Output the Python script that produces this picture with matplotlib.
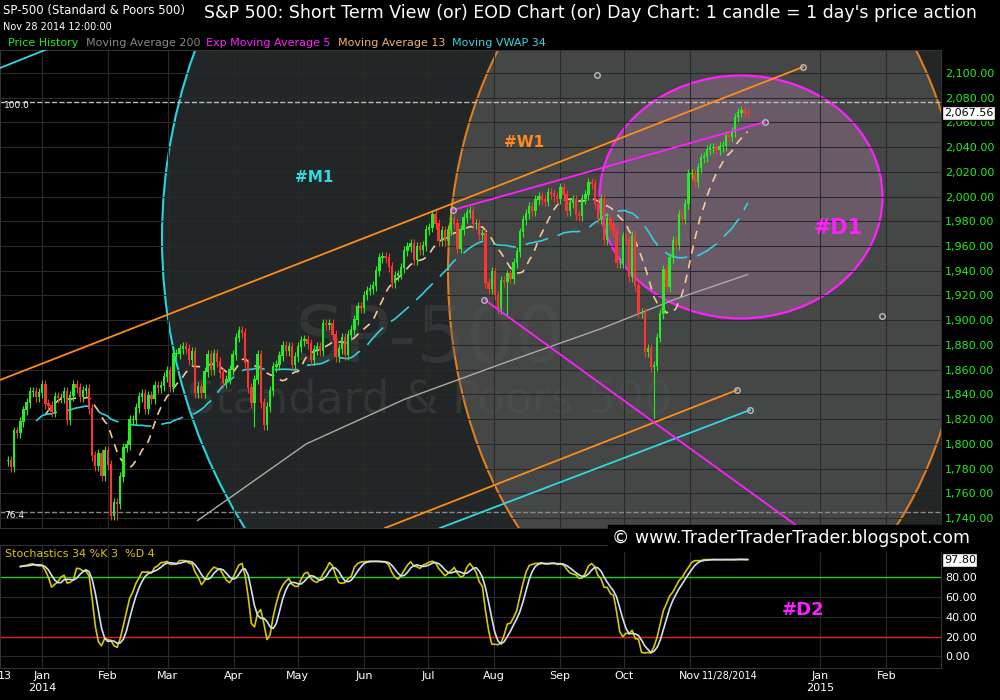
import numpy as np
import pandas as pd
import matplotlib
matplotlib.use("Agg")
import matplotlib.pyplot as plt
from matplotlib.patches import Ellipse
import matplotlib.dates as mdates

# daily closes, 16 Dec 2013 .. 28 Nov 2014
closes = [1786, 1781, 1810, 1809, 1818, 1827, 1833, 1842, 1842, 1838, 1841, 1848,
          1832, 1831, 1826, 1838, 1837, 1837, 1842, 1819, 1839, 1848, 1845, 1838, 1843, 1844, 1828, 1790, 1782, 1792, 1774, 1794, 1783,
          1742, 1752, 1751, 1773, 1797, 1799, 1819, 1819, 1829, 1838, 1840, 1828, 1839, 1836, 1847, 1845, 1847, 1854, 1859,
          1846, 1873, 1873, 1877, 1878, 1877, 1868, 1874, 1841, 1846, 1841, 1858, 1872, 1860, 1873, 1866, 1857, 1849, 1852, 1860, 1872,
          1886, 1891, 1890, 1865, 1845, 1833, 1852, 1872, 1833, 1815, 1830, 1843, 1862, 1864, 1871, 1879, 1875, 1878, 1864, 1870, 1878, 1883,
          1884, 1881, 1868, 1876, 1878, 1875, 1897, 1896, 1897, 1888, 1870, 1877, 1886, 1872, 1888, 1892, 1900, 1911, 1910, 1920, 1924,
          1925, 1928, 1940, 1950, 1951, 1950, 1943, 1930, 1936, 1937, 1942, 1956, 1959, 1962, 1949, 1959, 1957, 1960,
          1973, 1975, 1985, 1978, 1964, 1972, 1964, 1973, 1982, 1978, 1958, 1973, 1983, 1987, 1988, 1978, 1978, 1969, 1970, 1930, 1925,
          1939, 1920, 1909, 1932, 1931, 1937, 1933, 1946, 1955, 1971, 1981, 1986, 1992, 1988, 1997, 2000, 1997, 1996, 2003,
          2002, 2000, 1998, 2007, 2001, 1988, 1995, 1997, 1985, 1984, 1998, 2001, 2011, 2010, 1994, 1982, 1998, 1965, 1982, 1977, 1972,
          1946, 1946, 1967, 1964, 1935, 1968, 1928, 1906, 1906, 1874, 1877, 1862, 1863, 1886, 1905, 1941, 1927, 1950, 1964, 1961, 1985, 1982, 1994, 2018,
          2018, 2012, 2023, 2031, 2032, 2038, 2039, 2039, 2038, 2040, 2041, 2049, 2048, 2052, 2064, 2068, 2069, 2068, 2067.56]
wick = 4.0
# a few notable intraday lows
special_lows = {"2014-02-05": 1738, "2014-04-11": 1814, "2014-08-07": 1904, "2014-10-15": 1820}

# Moving average 200
ma200_dates = ["2014-03-15", "2014-05-05", "2014-06-20", "2014-08-05", "2014-09-20", "2014-10-25", "2014-11-28"]
ma200_vals = [1738, 1800, 1836, 1865, 1893, 1917, 1937]
stoch_last = 97.80

month_labels = ["Jan\n2014", "Feb", "Mar", "Apr", "May", "Jun", "Jul", "Aug", "Sep", "Oct", "Nov", "Jan\n2015", "Feb"]
month_starts = ["2014-01-01", "2014-02-01", "2014-03-01", "2014-04-01", "2014-05-01", "2014-06-01", "2014-07-01",
                "2014-08-01", "2014-09-01", "2014-10-01", "2014-11-01", "2015-01-01", "2015-02-01"]

# ---- build OHLC
c = np.array(closes, dtype=float)
n = len(c)
d0 = mdates.date2num(pd.Timestamp("2013-12-16"))
d1 = mdates.date2num(pd.Timestamp("2014-11-28"))
x = np.linspace(d0, d1, n)
o = np.r_[c[0], c[:-1]]
hi = np.maximum(o, c) + wick
lo = np.minimum(o, c) - wick
for ds, v in special_lows.items():
    i = np.argmin(np.abs(x - mdates.date2num(pd.Timestamp(ds))))
    lo[i] = v
s = pd.Series(c)
ma13 = s.rolling(13).mean()
vwap34 = s.rolling(34, min_periods=10).mean()
hh = pd.Series(hi).rolling(34, min_periods=5).max()
ll = pd.Series(lo).rolling(34, min_periods=5).min()
k = (100 * (s - ll) / (hh - ll)).rolling(3, min_periods=1).mean()
dline = k.rolling(4, min_periods=1).mean()

# pixel <-> data helpers (chart geometry)
jan1 = mdates.date2num(pd.Timestamp("2014-01-01"))
PXD = 2.132
PXP = 445 / 360.0
def dx(px): return jan1 + (px - 42) / PXD
def py(p): return 2100 - (p - 73) / PXP

W, H = 1000, 700
fig = plt.figure(figsize=(10, 7), dpi=100, facecolor="black")
ax = fig.add_axes([0, 1 - 528 / H, 941 / W, 478 / H], facecolor="black")
ax2 = fig.add_axes([0, 1 - 668 / H, 941 / W, 123 / H], facecolor="black")

ax.set_ylim(py(528), py(50))
for a in (ax, ax2):
    a.set_xlim(dx(0), dx(941))
    for sp in a.spines.values():
        sp.set_color("#333333")
    a.set_xticks([mdates.date2num(pd.Timestamp(m)) for m in month_starts])
    a.tick_params(axis="x", length=0, labelbottom=False)
    a.grid(True, color="#2a2a2a", lw=0.8)

# background circles
ax.add_patch(Ellipse((dx(710), py(238)), 1096 / PXD, 1098 / PXP, facecolor="#222626", edgecolor="#22d8e0", lw=1.5, zorder=0))
ax.add_patch(Ellipse((dx(707), py(271)), 518 / PXD, 748 / PXP, facecolor="#4c4c4c", edgecolor="#ff8c1a", lw=1.5, alpha=0.85, zorder=0.5))
ax.add_patch(Ellipse((dx(741), py(197)), 283 / PXD, 243 / PXP, facecolor="#6a5a68", edgecolor="#ff20ff", lw=1.6, zorder=0.6))

# watermark
ax.text(dx(430), py(340), "SP-500", color="#555555", alpha=0.35, fontsize=56, ha="center", va="center", zorder=0.7)
ax.text(dx(430), py(400), "Standard & Poors 500", color="#555555", alpha=0.35, fontsize=32, ha="center", va="center", zorder=0.7)

# reference lines
ax.axhline(py(102), color="#bbbbbb", ls="--", lw=1)
ax.axhline(py(512), color="#888888", ls="--", lw=1)
ax.text(dx(4), py(106), "100.0", color="white", fontsize=6.5, va="center")
ax.text(dx(4), py(516), "76.4", color="white", fontsize=6.5, va="center")

# candles
up = c >= o
col = np.where(up, "#22ee22", "#ff3333")
ax.vlines(x, lo, hi, colors=col, lw=0.8, zorder=3)
ax.bar(x, np.abs(c - o) + 0.8, bottom=np.minimum(o, c), width=1.1, color=col, zorder=3)

ax.plot(x, ma13, color="#f5c89a", ls=(0, (5, 4)), lw=1.2, zorder=2)
ax.plot(x, vwap34, color="#30d0e0", ls=(0, (14, 6)), lw=1.2, zorder=2)
ax.plot([mdates.date2num(pd.Timestamp(d)) for d in ma200_dates], ma200_vals, color="#aaaaaa", lw=1, zorder=2)

# trend lines
def tl(p0, p1, color):
    ax.plot([dx(p0[0]), dx(p1[0])], [py(p0[1]), py(p1[1])], color=color, lw=1.3, zorder=4)
tl((0, 380), (803, 67), "#ff8c1a")
tl((385, 528), (737, 390), "#ff8c1a")
tl((440, 528), (750, 410), "#30d8e0")
tl((453, 210), (765, 122), "#ff20ff")
tl((485, 300), (800, 528), "#ff20ff")
tl((0, 68), (60, 44), "#30d8e0")
for p in [(597, 75), (453, 210), (484, 300), (737, 390), (750, 410), (765, 122), (803, 67), (882, 316)]:
    ax.plot(dx(p[0]), py(p[1]), "o", mfc="none", mec="#bbbbbb", ms=4, zorder=5)

ax.text(dx(314), py(178), "#M1", color="#30d8e0", fontsize=11, fontweight="bold", ha="center", va="center")
ax.text(dx(524), py(143), "#W1", color="#ff8c1a", fontsize=11, fontweight="bold", ha="center", va="center")
ax.text(dx(838), py(228), "#D1", color="#ff20ff", fontsize=15, fontweight="bold", ha="center", va="center")

# price axis
ax.yaxis.tick_right()
ax.set_yticks(np.arange(1740, 2101, 20))
ax.set_yticklabels([f"{v:,.2f}" for v in np.arange(1740, 2101, 20)])
ax.tick_params(axis="y", colors="#22ee22", labelsize=8, length=0, pad=3)
ax.text(1.003, (c[-1] - py(528)) / (py(50) - py(528)), f"{c[-1]:,.2f}", transform=ax.transAxes,
        color="black", fontsize=8, va="center", bbox=dict(fc="white", ec="black", pad=1.2))

# stochastics
ax2.set_ylim(-12, 113)
ax2.axhline(80, color="#22cc22", lw=1)
ax2.axhline(20, color="#dd2222", lw=1)
ax2.plot(x, k, color="#d8c800", lw=1.2)
ax2.plot(x, dline, color="#cfe0f0", lw=1.2)
ax2.yaxis.tick_right()
ax2.set_yticks(np.arange(0, 81, 20))
ax2.set_yticklabels([f"{v:.2f}" for v in np.arange(0, 81, 20)])
ax2.tick_params(axis="y", colors="white", labelsize=8, length=0, pad=3)
ax2.text(1.003, (stoch_last + 12) / 125, f"{stoch_last:.2f}", transform=ax2.transAxes,
         color="black", fontsize=8, va="center", bbox=dict(fc="white", ec="black", pad=1.2))
ax2.text(0.005, 0.93, "Stochastics 34 %K 3  %D 4", transform=ax2.transAxes, color="#d8c800", fontsize=8, va="center")
ax2.text(dx(803), 47, "#D2", color="#ff20ff", fontsize=13, fontweight="bold", ha="center", va="center")

# month labels
for lab, m in zip(month_labels, month_starts):
    xx = mdates.date2num(pd.Timestamp(m))
    ax2.text(xx, -15, lab, color="white", fontsize=8, ha="center", va="top", clip_on=False)
ax2.text(dx(5), -15, "13", color="white", fontsize=8, ha="center", va="top")
ax2.text(dx(730), -15, "11/28/2014", color="white", fontsize=7, ha="center", va="top")

# header
fig.text(0.003, 0.985, "SP-500 (Standard & Poors 500)", color="white", fontsize=8.5, va="center")
fig.text(0.003, 0.962, "Nov 28 2014 12:00:00", color="white", fontsize=7, va="center")
fig.text(0.59, 0.982, "S&P 500: Short Term View (or) EOD Chart (or) Day Chart: 1 candle = 1 day's price action",
         color="white", fontsize=12.5, ha="center", va="center")
legend = [("Price History", "#22ee22"), ("Moving Average 200", "#888888"), ("Exp Moving Average 5", "#ff20ff"),
          ("Moving Average 13", "#f5b070"), ("Moving VWAP 34", "#30d8e0")]
lx = [8, 86, 206, 338, 452]
for (t, cc), px in zip(legend, lx):
    fig.text(px / W, 1 - 43 / H, t, color=cc, fontsize=8, va="center")

fig.text(0.612, 1 - 538 / H, "\u00a9 www.TraderTraderTrader.blogspot.com", color="white", fontsize=12.5, va="center",
         bbox=dict(fc="black", ec="black", pad=3))

fig.savefig("out.png", dpi=100, facecolor="black")
